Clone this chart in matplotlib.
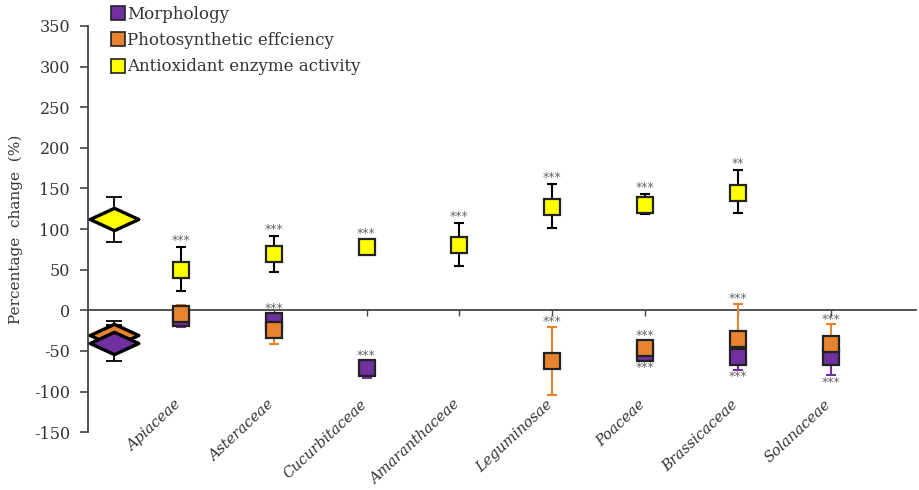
import numpy as np
import matplotlib
matplotlib.use("Agg")
import matplotlib.pyplot as plt
from matplotlib.path import Path
from matplotlib.lines import Line2D

plt.rcParams["font.family"] = ["DejaVu Serif"]
plt.rcParams["axes.unicode_minus"] = False

# ---- data (percentage change, %) ----
families = ["Apiaceae", "Asteraceae", "Cucurbitaceae", "Amaranthaceae",
            "Leguminosae", "Poaceae", "Brassicaceae", "Solanaceae"]
nan = np.nan

morph_val = [-10, -13, -71, nan, nan, -52, -58, -58]
morph_lo = [10, 10, 12, nan, nan, 6, 15, 22]
morph_hi = [6, 9, 10, nan, nan, 5, 8, 8]

photo_val = [-4, -24, nan, nan, -63, -46, -35, -41]
photo_lo = [8, 17, nan, nan, 41, 8, 10, 8]
photo_hi = [10, 8, nan, nan, 43, 8, 43, 24]

antiox_val = [50, 69, 78, 80, 127, 130, 145, nan]
antiox_lo = [26, 22, 5, 25, 26, 11, 25, nan]
antiox_hi = [28, 23, 8, 28, 29, 13, 28, nan]

# overall effect (diamonds): value, lower err, upper err
overall_morph = (-40, 23, 22)
overall_photo = (-30, 17, 17)
overall_antiox = (112, 28, 27)

# significance labels
sig_top = ["***", "***", "***", "***", "***", "***", "**", ""]
sig_neg_above = ["", "***", "***", "", "***", "***", "***", "***"]
sig_neg_below = ["", "", "", "", "", "***", "***", "***"]

PURPLE = "#7030A0"
ORANGE = "#E8832F"
YELLOW = "#FFFF00"
TEXT = "#333333"

fig = plt.figure(figsize=(9.2, 4.9), dpi=100)
ax = fig.add_axes([0.0957, 0.118, 0.9, 0.829])

x = np.arange(1, len(families) + 1)

diamond = Path([(-1, 0), (0, 0.46), (1, 0), (0, -0.46), (-1, 0)],
               [Path.MOVETO, Path.LINETO, Path.LINETO, Path.LINETO, Path.CLOSEPOLY])

# overall diamonds
x0 = 0.28
overall = [(overall_antiox, YELLOW), (overall_photo, ORANGE), (overall_morph, PURPLE)]
for (v, lo, hi), col in overall:
    ax.errorbar(x0, v, yerr=[[lo], [hi]], fmt="none", ecolor="black", elinewidth=1.3,
                capsize=6, capthick=1.3, zorder=2)
for (v, lo, hi), col in overall:
    ax.plot(x0, v, marker=diamond, markersize=35, markerfacecolor=col,
            markeredgecolor="black", markeredgewidth=2.4, linestyle="none", zorder=3)

series = [
    (antiox_val, antiox_lo, antiox_hi, YELLOW, "black"),
    (morph_val, morph_lo, morph_hi, PURPLE, PURPLE),
    (photo_val, photo_lo, photo_hi, ORANGE, ORANGE),
]
for z, (vals, lo, hi, fc, ec) in enumerate(series):
    vals = np.array(vals, dtype=float)
    ax.errorbar(x, vals, yerr=[lo, hi], fmt="none", ecolor=ec, elinewidth=1.5,
                capsize=3.5, capthick=1.5, zorder=4 + 2 * z)
    ax.plot(x, vals, marker="s", markersize=12, markerfacecolor=fc,
            markeredgecolor="#222222", markeredgewidth=1.6, linestyle="none",
            zorder=5 + 2 * z)

# significance stars (placed just beyond the error bar or the marker, whichever is further)
star_kw = dict(ha="center", va="center", fontsize=9, color="#666666",
               family="DejaVu Sans", zorder=10)
for i, xi in enumerate(x):
    if sig_top[i]:
        top = antiox_val[i] + antiox_hi[i]
        ax.text(xi, top + 8, sig_top[i], **star_kw)
    pairs = [(morph_val[i], morph_lo[i], morph_hi[i]), (photo_val[i], photo_lo[i], photo_hi[i])]
    neg_tops = [v + max(h, 9) for v, l, h in pairs if not np.isnan(v)]
    neg_bots = [v - max(l, 9) for v, l, h in pairs if not np.isnan(v)]
    if sig_neg_above[i]:
        ax.text(xi, max(neg_tops) + 6, sig_neg_above[i], **star_kw)
    if sig_neg_below[i]:
        ax.text(xi, min(neg_bots) - 9, sig_neg_below[i], **star_kw)

ax.set_xlim(0, 8.92)
ax.set_ylim(-150, 350)
ax.set_yticks(np.arange(-150, 351, 50))
ax.set_xticks(x)
ax.set_xticklabels([])
ax.spines["bottom"].set_position(("data", 0))
ax.spines["top"].set_visible(False)
ax.spines["right"].set_visible(False)
for s in ["left", "bottom"]:
    ax.spines[s].set_color("#444444")
    ax.spines[s].set_linewidth(1.3)
ax.tick_params(axis="y", direction="out", length=6, width=1.2, color="#444444",
               labelsize=11.5, labelcolor=TEXT, pad=7)
ax.tick_params(axis="x", direction="out", length=4, width=1.0, color="#444444")

# category labels below the plot
for xi, name in zip(x, families):
    ax.text(xi + 0.03, -107, name, rotation=43, ha="right", va="top",
            fontsize=10.5, style="italic", color=TEXT)

ax.set_ylabel("Percentage  change  (%)", fontsize=11, color=TEXT, labelpad=8)

handles = [
    Line2D([], [], marker="s", markersize=10, markerfacecolor=c, markeredgecolor="#222222",
           markeredgewidth=1.2, linestyle="none")
    for c in (PURPLE, ORANGE, YELLOW)
]
fig.legend(handles, ["Morphology", "Photosynthetic effciency", "Antioxidant enzyme activity"],
           loc="upper left", bbox_to_anchor=(0.108, 1.008), frameon=False, fontsize=12,
           handletextpad=0.05, handlelength=1.0, labelspacing=0.55, borderaxespad=0.2,
           labelcolor=TEXT)

fig.savefig("out.png", dpi=100)
